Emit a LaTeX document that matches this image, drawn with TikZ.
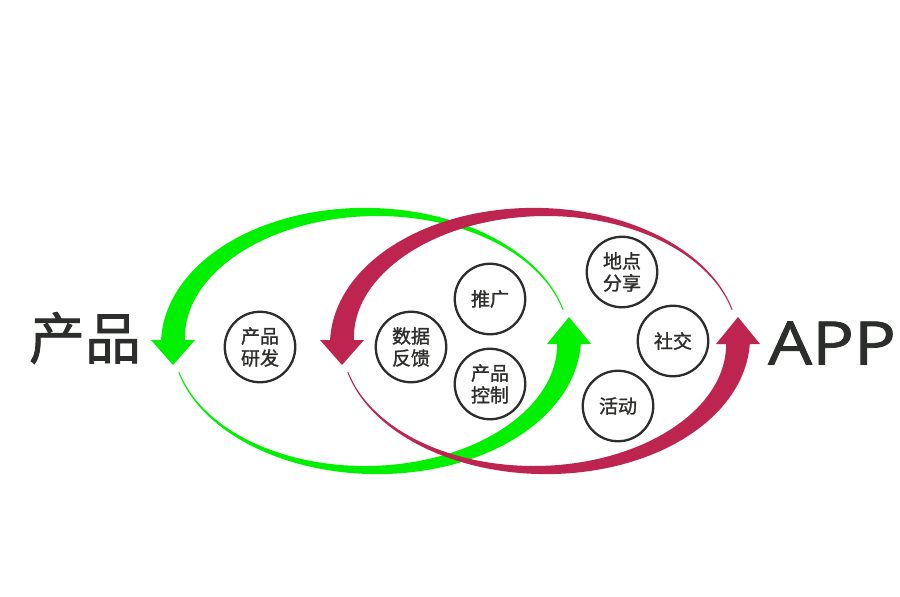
\documentclass[tikz,border=0pt]{standalone}
\usepackage{fontspec}
\setmainfont{Open Sans}
\newfontfamily\cjk[FakeBold=1.3]{Noto Sans CJK SC}
\newfontfamily\latn[FakeBold=1.2]{Open Sans}
\definecolor{gr}{RGB}{0,240,0}
\definecolor{rd}{RGB}{190,36,80}
\definecolor{tx}{RGB}{44,46,43}
\newcommand\halfband[4]{% #1 cx, #2 start angle, #3 colour, #4 cy
  \fill[#3] ({#1+198*cos(#2)},{#4-129*sin(#2)})
    \foreach \p [evaluate=\p as \h using {0.5+11.5*(\p/166)*sqrt(\p/166)}] in {0,2,...,166}
      { -- ({#1+(198+\h)*cos(#2+\p)},{#4-(129+\h)*sin(#2+\p)}) }
    \foreach \p [evaluate=\p as \h using {0.5+11.5*(\p/166)*sqrt(\p/166)}] in {166,164,...,0}
      { -- ({#1+(198-\h)*cos(#2+\p)},{#4-(129-\h)*sin(#2+\p)}) }
    -- cycle;}
\newcommand\loopband[3]{% #1 cx, #2 cy, #3 colour
  \halfband{#1}{14}{#3}{#2}
  \halfband{#1}{194}{#3}{#2}
  \fill[#3] ({#1-198-22},{#2-1}) -- ({#1-198+22},{#2-1}) -- ({#1-198},{#2+24}) -- cycle;
  \fill[#3] ({#1+198-22},{#2+3}) -- ({#1+198+22},{#2+3}) -- ({#1+198},{#2-24}) -- cycle;}
\tikzset{
  circ/.style={circle, draw=tx, line width=2.3, minimum size=70.5, inner sep=0pt,
    align=center, text=tx, font=\cjk\fontsize{19}{22}\selectfont},
  big/.style={text=tx, inner sep=0pt}
}
\begin{document}
\begin{tikzpicture}[x=1pt,y=-1pt]
\useasboundingbox (0,0) rectangle (900,597);
\fill[white] (0,0) rectangle (900,597);
\loopband{371}{341}{gr}
\loopband{540}{341}{rd}
\node[circ] (c1) at (260,347) {产品\\研发};
\node[circ] (c2) at (411,347) {数据\\反馈};
\node[circ] (c3) at (490,299) {推广};
\node[circ] (c4) at (490,384) {产品\\控制};
\node[circ] (c5) at (622,272) {地点\\分享};
\node[circ] (c6) at (673,341) {社交};
\node[circ] (c7) at (618,406) {活动};
\node[big, font=\cjk\fontsize{56}{60}\selectfont] (l1) at (85,338) {产品};
\node[big, font=\latn\fontsize{60}{64}\selectfont, xscale=1.16] (l2) at (832,343) {APP};
\end{tikzpicture}
\end{document}
